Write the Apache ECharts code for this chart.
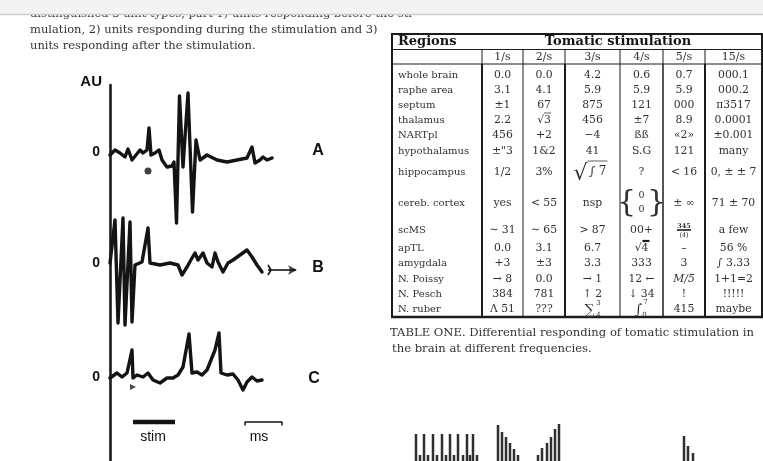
<!DOCTYPE html>
<html><head><meta charset="utf-8">
<script src="https://cdn.jsdelivr.net/npm/echarts@6/dist/echarts.min.js"></script>
<style>html,body{margin:0;padding:0;background:#fff}#c{width:763px;height:461px}</style>
</head><body><div id="c"></div>
<script>
const SERIF = "'DejaVu Serif','Liberation Serif',serif";
const SANS = "'Liberation Sans',Arial,sans-serif";

// ---------- text ----------
const textLines = [
  'distinguished 3 unit types, part 1) units responding before the sti-',
  'mulation, 2) units responding during the stimulation and 3)',
  'units responding after the stimulation.'
];
const captionLines = [
  'TABLE ONE. Differential responding of tomatic stimulation in',
  'the brain at different frequencies.'
];

// ---------- traces (x: time units, y: AU) ----------
const traceA = [[0,-0.3],[5,0.2],[10,-0.1],[15,-0.5],[18,0.3],[22,-0.8],[26,-0.3],[30,0.2],[33,-0.1],[37,0.2],[39,2.4],[41,-0.3],[45,-0.1],[49,0.2],[52,-0.8],[57,-1.5],[62,-1.4],[64,-1.0],[66.5,-7.1],[69.5,5.6],[73,-1.5],[78,5.9],[82.5,-6.0],[86,1.2],[90,-0.8],[97,-0.3],[107,-0.8],[117,-1.0],[127,-0.8],[137,-0.6],[142,0.5],[145,-1.1],[150,-0.8],[153,-0.5],[157,-0.8],[162,-0.6]];
const traceB = [[0,0],[5,4.3],[8,-6.0],[13,4.5],[15,-6.2],[20,4.1],[22,-5.9],[25,-0.2],[27,-0.2],[32,0.1],[38,3.5],[40,0],[42,0],[50,-0.2],[60,0],[68,-0.2],[72,-1.2],[77,-0.4],[82,0.5],[85,1.0],[88,0.3],[93,1.0],[97,0],[102,-0.4],[105,1.0],[108,0.1],[113,-0.9],[118,0],[123,0.3],[130,0.8],[137,1.3],[142,0.6],[147,-0.2],[152,-0.9]];
const traceC = [[0,-0.1],[7,0.4],[12,0],[17,0.4],[22,2.7],[23,-0.1],[27,0.2],[33,0],[38,0.4],[43,-0.3],[50,-0.6],[57,-0.1],[63,-0.1],[68,0.2],[73,1.0],[79,4.3],[82,0.4],[87,0.5],[92,0.2],[97,0.7],[105,2.7],[109,4.4],[111,0.4],[117,0.2],[123,0.3],[128,-0.3],[133,-1.3],[137,-0.5],[142,0],[147,-0.4],[152,-0.3]];
const traceLabels = ['A', 'B', 'C'];
const dotA = [[38,-1.9]];
const markC = [[23,-1.0]];
const arrowB = [[158,-0.7],[186,-0.7]];
const arrowHeadB = [[187,-0.7]];
const arrowTailB = [[158,-0.2],[161,-0.7],[158,-1.2]];
const stimBar = [[23,4],[65,4]];
const msBar = [[135,2.2],[135,4],[172,4],[172,2.2]];
const scaleLabels = ['stim', 'ms'];

// ---------- bar fragments ----------
const barPositions = [16,20,24,28,33,37,42,46,50,54,58,63,67,70,73,77, 98,102,106,110,114,118, 138,142,147,151,155,159, 284,288,293];
const barHeights   = [27,6,27,6,27,6,27,6,27,6,27,6,27,6,27,6, 36,29,24,18,12,6, 6,13,18,24,32,37, 25,15,8];

// ---------- table ----------
const regionsHeader = 'Regions';
const tableTitle = 'Tomatic stimulation';
const regions = ['whole brain','raphe area','septum','thalamus','NARTpl','hypothalamus','hippocampus','cereb. cortex','scMS','apTL','amygdala','N. Poissy','N. Pesch','N. ruber'];
const freqLabels = ['1/s','2/s','3/s','4/s','5/s','15/s'];
const col1s  = ['0.0','3.1','±1','2.2','456','±"3','1/2','yes','∼ 31','0.0','+3','→ 8','384','Λ 51'];
const col2s  = ['0.0','4.1','67','√3','+2','1&2','3%','< 55','∼ 65','3.1','±3','0.0','781','???'];
const col3s  = ['4.2','5.9','875','456','−4','41','√∫7','nsp','> 87','6.7','3.3','→ 1','↑ 2','∑'];
const col4s  = ['0.6','5.9','121','±7','ßß','S.G','?','{0,0}','00+','√4','333','12 ←','↓ 34','∫'];
const col5s  = ['0.7','5.9','000','8.9','«2»','121','< 16','± ∞','345/(4)','–','3','M/5','!','415'];
const col15s = ['000.1','000.2','π3517','0.0001','±0.001','many','0, ± ± 7','71 ± 70','a few','56 %','∫ 3.33','1+1=2','!!!!!','maybe'];
const columns = [col1s, col2s, col3s, col4s, col5s, col15s];

// ---------- layout ----------
const g = [];
function gline(x1,y1,x2,y2,w,color){ g.push({type:'line', z:10, shape:{x1:x1,y1:y1,x2:x2,y2:y2}, style:{stroke:color||'#1c1c1c', lineWidth:w}}); }
function gtext(x,y,s,font,opt){
  const st = Object.assign({text:s, fill:'#303030', font:font, align:'center', verticalAlign:'middle'}, opt||{});
  st.textAlign = st.align; st.textVerticalAlign = st.verticalAlign;
  g.push({type:'text', z:10, x:x, y:y, style:st});
}
const F = (s, fam, extra) => (extra ? extra + ' ' : '') + s + 'px ' + (fam || SERIF);

// paragraph (first line partly hidden under the top band)
const parY = [14, 30, 46];
textLines.forEach((t,i) => gtext(30, parY[i], t, F(11.5), {align:'left', fill:'#333'}));
g.push({type:'rect', z:20, shape:{x:0,y:0,width:763,height:14}, style:{fill:'#f3f3f3'}});
g.push({type:'line', z:20, shape:{x1:0,y1:14.5,x2:763,y2:14.5}, style:{stroke:'#cdcdcd', lineWidth:1.5}});
const capY = [333, 349];
captionLines.forEach((t,i) => gtext(i===0?390:392, capY[i], t, F(11.6), {align:'left', fill:'#333'}));

// figure labels
const labelPos = [[318,151],[318,268],[314,379]];
traceLabels.forEach((t,i) => gtext(labelPos[i][0], labelPos[i][1], t, F(16, SANS, 'bold'), {fill:'#111'}));
const scalePos = [[153,437],[259,437]];
scaleLabels.forEach((t,i) => gtext(scalePos[i][0], scalePos[i][1], t, F(14, SANS), {fill:'#111'}));

// table frame
const colX = [392,482,523,565,620,663,705,762];
const vW   = [2,2,1,2,1,1.5,2,2];
const rowY = [75,90,105,120,135,151,172,203,230,248,263,279,294,309];
const tTop = 34, tH1 = 49.5, tH2 = 64, tBot = 317;
gline(391, tTop, 763, tTop, 2.2);
gline(391, tH1, 763, tH1, 1);
gline(391, tH2, 763, tH2, 1.2);
gline(391, tBot, 763, tBot, 2.4);
gline(colX[0], tTop, colX[0], tBot, 2);
gline(colX[7], tTop, colX[7], tBot, 2);
for (let k = 1; k < 7; k++) {
  gline(colX[k], tH1, colX[k], tH2, 1);
  gline(colX[k], tH2, colX[k], tBot, vW[k]);
}
gtext(398, 42, regionsHeader, F(13, SERIF, 'bold'), {align:'left', fill:'#151515'});
gtext(618, 42, tableTitle, F(13, SERIF, 'bold'), {fill:'#151515'});
freqLabels.forEach((f,c) => gtext((colX[c+1]+colX[c+2])/2, 57, f, F(11)));
regions.forEach((r,i) => gtext(398, rowY[i], r, F(10), {align:'left'}));

function cell(cx, y, v) {
  const f = F(10.8);
  switch (v) {
    case '√3': gtext(cx, y, v, f); gline(cx, y-7, cx+7, y-7, 0.8, '#333'); break;
    case '√∫7':
      gtext(cx-12, y+2, '√', F(22)); gtext(cx+5, y, '∫ 7', F(12));
      gline(cx-5, y-11, cx+15, y-11, 0.8, '#333'); break;
    case '{0,0}':
      gtext(cx-15, y, '{', F(30)); gtext(cx+15, y, '}', F(30));
      gtext(cx, y-7, '0', F(9.5)); gtext(cx, y+7, '0', F(9.5)); break;
    case '345/(4)':
      gtext(cx, y-4, '345', F(6.5, SERIF, 'bold')); gline(cx-7, y, cx+7, y, 1.6);
      gtext(cx, y+5, '(4)', F(6.5)); break;
    case '√4': gtext(cx, y, v, f); gline(cx+1, y-7, cx+8, y-7, 2.2); break;
    case '∑':
      gtext(cx-3, y+1, '∑', F(14)); gtext(cx+6, y-6, '3', F(7)); gtext(cx+6, y+6, '4', F(7)); break;
    case '∫':
      gtext(cx-3, y+1, '∫', F(14)); gtext(cx+4, y-7, '7', F(7)); gtext(cx+3, y+6, '0', F(7)); break;
    case 'M/5': gtext(cx, y, v, F(10.8, SERIF, 'italic')); break;
    default: gtext(cx, y, v, f);
  }
}
columns.forEach((col,c) => {
  const cx = (colX[c+1]+colX[c+2])/2;
  col.forEach((v,i) => cell(cx, rowY[i], v));
});

// ---------- chart ----------
const hidden = {show:false};
const traceY = (min, max, idx) => ({gridIndex:idx, type:'value', min:min, max:max, axisLine:hidden, axisTick:hidden, splitLine:hidden,
  axisLabel:{customValues:[0], margin:10, color:'#111', fontSize:14, fontWeight:'bold', fontFamily:SANS}});
const tX = (idx, max) => ({gridIndex:idx, type:'value', min:0, max:max, show:false});
const traceStyle = () => ({color:'#141414', width:3.4, join:'round', cap:'round'});
const thin = () => ({color:'#141414', width:1.6});

const option = {
  animation:false,
  backgroundColor:'#fff',
  grid:[
    {left:110, top:85, width:1, height:376},
    {left:110, top:80, width:200, height:150},
    {left:110, top:200, width:200, height:140},
    {left:110, top:320, width:200, height:100},
    {left:110, top:410, width:200, height:20},
    {left:400, top:421, width:363, height:40}
  ],
  xAxis:[tX(0,1), tX(1,200), tX(2,200), tX(3,200), tX(4,200), tX(5,363)],
  yAxis:[
    {gridIndex:0, type:'value', min:0, max:1, axisLine:{show:true, lineStyle:{color:'#1a1a1a', width:2.6}}, axisTick:hidden, axisLabel:hidden, splitLine:hidden,
      name:'AU', nameLocation:'end', nameGap:3,
      nameTextStyle:{fontSize:15, fontWeight:'bold', fontFamily:SANS, color:'#111', align:'right', verticalAlign:'middle', padding:[0,8,0,0]}},
    traceY(-7.8, 7.2, 1),
    traceY(-7.7, 6.3, 2),
    traceY(-4.3, 5.7, 3),
    {gridIndex:4, type:'value', min:0, max:10, show:false},
    {gridIndex:5, type:'value', min:0, max:40, show:false}
  ],
  graphic:{elements:g},
  series:[
    {type:'line', xAxisIndex:1, yAxisIndex:1, data:traceA, symbol:'none', clip:false, lineStyle:traceStyle()},
    {type:'scatter', xAxisIndex:1, yAxisIndex:1, data:dotA, symbolSize:7, clip:false, itemStyle:{color:'#111'}},
    {type:'line', xAxisIndex:2, yAxisIndex:2, data:traceB, symbol:'none', clip:false, lineStyle:traceStyle()},
    {type:'line', xAxisIndex:2, yAxisIndex:2, data:arrowB, symbol:'none', clip:false, lineStyle:thin()},
    {type:'line', xAxisIndex:2, yAxisIndex:2, data:arrowTailB, symbol:'none', clip:false, lineStyle:thin()},
    {type:'scatter', xAxisIndex:2, yAxisIndex:2, data:arrowHeadB, symbol:'arrow', symbolRotate:-90, symbolSize:[7,9], clip:false, itemStyle:{color:'#141414'}},
    {type:'line', xAxisIndex:3, yAxisIndex:3, data:traceC, symbol:'none', clip:false, lineStyle:traceStyle()},
    {type:'scatter', xAxisIndex:3, yAxisIndex:3, data:markC, symbol:'triangle', symbolRotate:-90, symbolSize:6, clip:false, itemStyle:{color:'#222'}},
    {type:'line', xAxisIndex:4, yAxisIndex:4, data:stimBar, symbol:'none', clip:false, lineStyle:{color:'#141414', width:4.5}},
    {type:'line', xAxisIndex:4, yAxisIndex:4, data:msBar, symbol:'none', clip:false, lineStyle:{color:'#141414', width:1.5}},
    {type:'bar', xAxisIndex:5, yAxisIndex:5, data:barPositions.map((x,i) => [x, barHeights[i]]), barWidth:2.5, itemStyle:{color:'#2e2e2e'}}
  ]
};
const chart = echarts.init(document.getElementById('c'), null, {renderer:'canvas'});
chart.setOption(option);
</script>
</body></html>
